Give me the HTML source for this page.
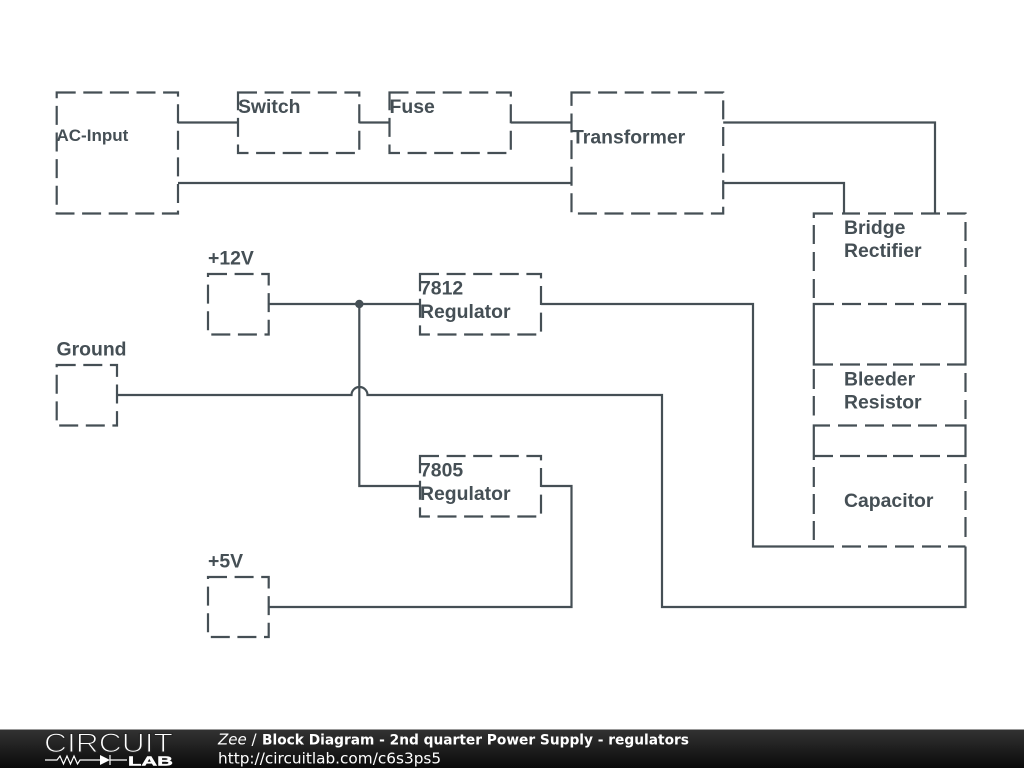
<!DOCTYPE html>
<html><head><meta charset="utf-8"><title>Block Diagram</title>
<style>html,body{margin:0;padding:0;background:#fff;width:1024px;height:768px;overflow:hidden}svg{display:block}
.b{fill:none;stroke:#454f55;stroke-width:2.2;stroke-dasharray:19 7.6}
.w{fill:none;stroke:#454f55;stroke-width:2.2}
.t{font-family:"Liberation Sans",sans-serif;font-weight:bold;font-size:19.4px;fill:#454f55}
.f{font-family:"DejaVu Sans",sans-serif;font-size:15px;fill:#fff}
</style></head><body>
<svg width="1024" height="768" viewBox="0 0 1024 768" xmlns="http://www.w3.org/2000/svg">
<defs><linearGradient id="g" x1="0" y1="0" x2="0" y2="1"><stop offset="0" stop-color="#333"/><stop offset="1" stop-color="#0a0a0a"/></linearGradient></defs>
<rect width="1024" height="768" fill="#fff"/>
<rect class="b" x="56.7" y="92.500" width="121.300" height="121"/>
<rect class="b" x="238" y="92.500" width="121.300" height="60.500"/>
<rect class="b" x="389.500" y="92.500" width="121.300" height="60.500"/>
<rect class="b" x="571.500" y="92.500" width="151.700" height="121"/>
<rect class="b" x="208" y="274" width="60.700" height="60.500"/>
<rect class="b" x="56.700" y="365" width="60.300" height="60.500"/>
<rect class="b" x="420" y="274" width="121" height="60.500"/>
<rect class="b" x="420" y="456" width="121" height="60.500"/>
<rect class="b" x="208" y="577" width="60.700" height="60"/>
<!-- right column stack -->
<path class="w" d="M813.800 218V213.500H833M842 213.500H860M868 213.500H886M894 213.500H913M921 213.500H940M947 213.500H965.500V214
M813.800 225V244M813.800 252V271M813.800 279V298
M965.500 222V241M965.500 248V267M965.500 275V294
M834 304H813.800V364.500H833M842 304H861M868 304H887M895 304H914M922 304H941M948 304H965.500V364.500H947M940 364.500H920M913 364.500H893M887 364.500H867M860 364.500H840
M813.800 369V389M813.800 396V415.500
M965.500 373V392M965.500 400V419
M830 425.500H813.800V460M813.800 456H833M838 425.500H857M865 425.500H884M892 425.500H911M918 425.500H937M945 425.500H965.500V456H947M940 456H920M913 456H893M887 456H867M860 456H840
M813.800 467V487M813.800 494V514M813.800 521V540
M965.500 464V483M965.500 491V510M965.500 517V537
M842 546.500H861M868 546.500H887M895 546.500H914M922 546.500H941M948 546.500H965.500"/>
<path class="w" d="M178 122.500H238M359.300 122.500H389.500M510.800 122.500H571.500M178 183H571.500M723.200 122.500H935V213.500M723.200 183H844V213.500M268.700 304H420M359.300 304V486H420M117 395H351.500A8 8 0 0 1 367.500 395H662V607H965.500V546.500M541 304H753V546.500H834M541 486H571.500V607H268.700"/>
<circle cx="359.300" cy="304" r="4.200" fill="#454f55"/>
<text class="t" x="56.500" y="140.800" style="font-size:17px">AC-Input</text>
<text class="t" x="238" y="113">Switch</text>
<text class="t" x="389.500" y="113">Fuse</text>
<text class="t" x="572" y="143.500">Transformer</text>
<text class="t" x="844" y="234">Bridge</text>
<text class="t" x="844" y="257">Rectifier</text>
<text class="t" x="844" y="385.500">Bleeder</text>
<text class="t" x="844" y="408.500">Resistor</text>
<text class="t" x="844" y="507">Capacitor</text>
<text class="t" x="208" y="264.500">+12V</text>
<text class="t" x="56.500" y="355.500">Ground</text>
<text class="t" x="420" y="294.500">7812</text>
<text class="t" x="420" y="318">Regulator</text>
<text class="t" x="420" y="476.500">7805</text>
<text class="t" x="420" y="500">Regulator</text>
<text class="t" x="208" y="567.500">+5V</text>
<rect x="0" y="729" width="1024" height="39" fill="url(#g)"/>
<rect x="0" y="729" width="1024" height="1" fill="#999"/>
<text x="44" y="752" font-family="Liberation Sans,sans-serif" font-size="26.500" fill="#fff" stroke="#262626" stroke-width="1.100" textLength="129" lengthAdjust="spacingAndGlyphs">CIRCUIT</text>
<path d="M45 760H57L60 756 63.500 764 67 756 70.500 764 74 756 77.500 764 80 760H100M110 755V765M110 760H127" fill="none" stroke="#fff" stroke-width="1.200"/>
<path d="M100 755V765L110 760Z" fill="#fff"/>
<text x="128" y="765.500" font-family="Liberation Sans,sans-serif" font-size="13" font-weight="bold" fill="#fff" stroke="#fff" stroke-width=".4" textLength="45" lengthAdjust="spacingAndGlyphs">LAB</text>
<text class="f" x="218" y="744.500"><tspan font-style="italic">Zee</tspan> /</text>
<text class="f" x="262" y="744.500" font-weight="bold" style="font-size:14px" textLength="427" lengthAdjust="spacingAndGlyphs">Block Diagram - 2nd quarter Power Supply - regulators</text>
<text class="f" x="218" y="763.500" style="font-size:15.300px">http://circuitlab.com/c6s3ps5</text>
</svg>
</body></html>
